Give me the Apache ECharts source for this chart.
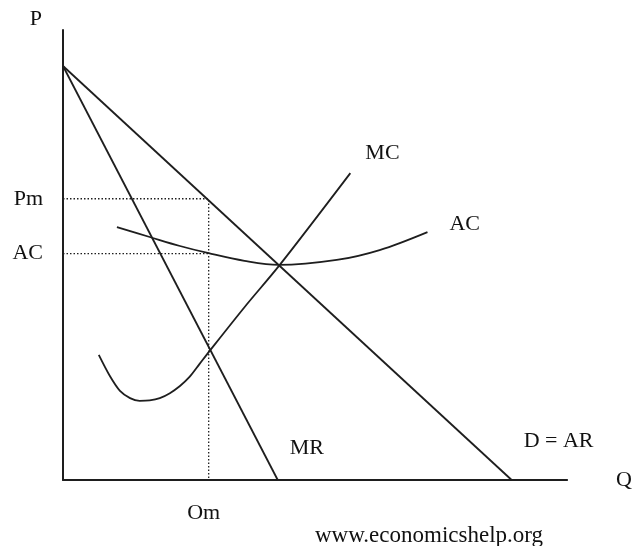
<!DOCTYPE html>
<html>
<head>
<meta charset="utf-8">
<script src="https://cdn.jsdelivr.net/npm/echarts@6/dist/echarts.min.js"></script>
<style>
  html, body { margin: 0; padding: 0; background: #fff; }
  #chart { width: 635px; height: 546px; }
</style>
</head>
<body>
<div id="chart"></div>
<script>
// values (Q and P in arbitrary units, 0..100)
var demand = [[0, 92], [89, 0]];
var mr = [[0, 92], [42.6, 0]];
var mc = [[7.1, 27.8], [9.3, 23.1], [11.3, 19.8], [13.3, 18.2], [15.2, 17.6],
          [17.2, 17.7], [19.2, 18.2], [21.2, 19.3], [23.2, 20.9], [25.1, 22.9],
          [27.1, 25.8], [29.1, 28.7], [36.0, 38.4], [43.0, 47.8], [57.0, 68.2]];
var ac = [[10.7, 56.2], [17.2, 54.0], [23.2, 52.0], [28.9, 50.4], [36.0, 48.7],
          [42.8, 47.8], [54.3, 48.9], [62.8, 51.1], [72.3, 55.1]];
var om = 28.9, pm = 62.5, acLevel = 50.3;
var yTicks = { 62.5: 'Pm', 50.3: 'AC' };
var xTicks = { 28.9: 'Om' };

var ink = '#1e1e1e';
var font = 'Liberation Serif';

function curve(name, data, smooth, offset) {
  return {
    name: name, type: 'line', data: data, smooth: smooth,
    symbol: 'none', silent: true,
    lineStyle: { color: ink, width: 1.8 },
    endLabel: { show: true, formatter: name, offset: offset,
                color: '#111', fontFamily: font, fontSize: 22 }
  };
}
function dotted(data) {
  return {
    type: 'line', data: data, symbol: 'none', silent: true,
    lineStyle: { color: ink, width: 1.3, type: [1.5, 2] }
  };
}

var chart = echarts.init(document.getElementById('chart'));
chart.setOption({
  animation: false,
  backgroundColor: '#fff',
  title: {
    text: 'www.economicshelp.org', left: 315, top: 524, padding: 0,
    textStyle: { fontFamily: font, fontSize: 23, fontWeight: 'normal', color: '#111' }
  },
  grid: { left: 63, right: 67, top: 30, bottom: 66 },
  xAxis: {
    type: 'value', min: 0, max: 100,
    name: 'Q', nameLocation: 'end', nameGap: 49,
    nameTextStyle: { fontFamily: font, fontSize: 22, color: '#111' },
    axisLine: { lineStyle: { color: ink, width: 2 } },
    axisTick: { show: false },
    splitLine: { show: false },
    axisLabel: {
      customValues: [om], margin: 22,
      fontFamily: font, fontSize: 22, color: '#111', padding: [0, 10, 0, 0],
      formatter: function (v) { return xTicks[v] || ''; }
    }
  },
  yAxis: {
    type: 'value', min: 0, max: 100,
    name: 'P', nameLocation: 'end', nameGap: 0,
    nameTextStyle: { fontFamily: font, fontSize: 22, color: '#111', align: 'right', padding: [0, 21, 0, 0] },
    axisLine: { show: true, lineStyle: { color: ink, width: 2 } },
    axisTick: { show: false },
    splitLine: { show: false },
    axisLabel: {
      customValues: [acLevel, pm], margin: 20,
      fontFamily: font, fontSize: 22, color: '#111',
      formatter: function (v) { return yTicks[v] || ''; }
    }
  },
  series: [
    dotted([[0, pm], [om, pm], [om, 0]]),
    dotted([[0, acLevel], [om, acLevel]]),
    curve('D = AR', demand, false, [4, -39]),
    curve('MR', mr, false, [4, -32]),
    curve('MC', mc, 0.3, [7, -20]),
    curve('AC', ac, 0.35, [14, -8])
  ]
});
</script>
</body>
</html>
